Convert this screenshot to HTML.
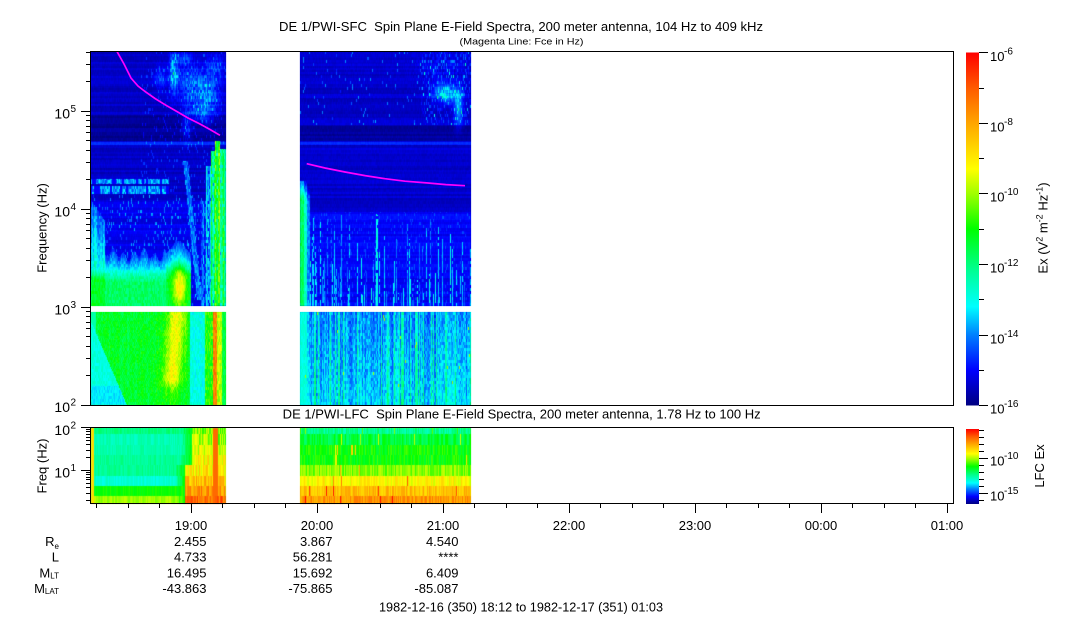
<!DOCTYPE html>
<html><head><meta charset="utf-8">
<style>
html,body{margin:0;padding:0;background:#fff;width:1083px;height:620px;overflow:hidden;}
#fb,#cv,#ov{position:absolute;left:0;top:0;}
text{font-family:"Liberation Sans",Arial,sans-serif;fill:#000;}
</style></head><body>
<svg id="fb" width="1083" height="620" xmlns="http://www.w3.org/2000/svg">
<rect x="91" y="52" width="135" height="254" fill="#0000c0"/>
<rect x="91" y="280" width="100" height="26" fill="#00ff90"/>
<rect x="91" y="312" width="135" height="93" fill="#30ff30"/>
<rect x="300" y="52" width="171" height="254" fill="#0000d0"/>
<rect x="300" y="312" width="171" height="93" fill="#0090ff"/>
<rect x="91" y="428" width="135" height="76" fill="#00ffb0"/>
<rect x="300" y="428" width="171" height="76" fill="#a0ff00"/>
</svg>
<canvas id="cv" width="1083" height="620"></canvas>
<svg id="ov" width="1083" height="620" xmlns="http://www.w3.org/2000/svg">
<defs>
<linearGradient id="cb" x1="0" y1="0" x2="0" y2="1">
<stop offset="0" stop-color="#ff0000"/>
<stop offset="0.1" stop-color="#ff5a00"/>
<stop offset="0.2" stop-color="#ffa500"/>
<stop offset="0.33" stop-color="#ffff00"/>
<stop offset="0.4" stop-color="#a0ff00"/>
<stop offset="0.5" stop-color="#00ff00"/>
<stop offset="0.62" stop-color="#00ff96"/>
<stop offset="0.72" stop-color="#00ffff"/>
<stop offset="0.8" stop-color="#0080ff"/>
<stop offset="0.9" stop-color="#0000ff"/>
<stop offset="1" stop-color="#000080"/>
</linearGradient>
</defs>
<text x="279" y="31" font-size="13" textLength="484" lengthAdjust="spacingAndGlyphs" style="white-space:pre">DE 1/PWI-SFC  Spin Plane E-Field Spectra, 200 meter antenna, 104 Hz to 409 kHz</text>
<text x="459.5" y="44.5" font-size="9.5" textLength="124" lengthAdjust="spacingAndGlyphs">(Magenta Line: Fce in Hz)</text>
<text x="282.7" y="418.5" font-size="13" textLength="478" lengthAdjust="spacingAndGlyphs" style="white-space:pre">DE 1/PWI-LFC  Spin Plane E-Field Spectra, 200 meter antenna, 1.78 Hz to 100 Hz</text>

<polyline points="117,51.5 124,64 131,78 138,86 145,91.5 155,98.5 165,104.7 176,111 188,118 200,124 210,129.5 220,135.3" fill="none" stroke="#ff00ff" stroke-width="1.7"/>
<polyline points="306.7,163.7 325,168 345,172 365,175.6 385,178.7 405,181.2 428,183 446,184.6 465,185.7" fill="none" stroke="#ff00ff" stroke-width="1.7"/>

<rect x="90.5" y="51.5" width="863" height="354" fill="none" stroke="#000" stroke-width="1"/>
<rect x="90.5" y="427.5" width="863" height="76" fill="none" stroke="#000" stroke-width="1"/>

<path stroke="#000" stroke-width="1" fill="none" d="M81 111.5H90M81 209.5H90M81 307.5H90M81 405.5H90
M86 375.5H90M86 358.5H90M86 346.5H90M86 336.5H90M86 328.5H90M86 322.5H90M86 316.5H90M86 311.5H90
M86 277.5H90M86 260.5H90M86 248.5H90M86 238.5H90M86 230.5H90M86 224.5H90M86 218.5H90M86 213.5H90
M86 179.5H90M86 162.5H90M86 150.5H90M86 140.5H90M86 132.5H90M86 126.5H90M86 120.5H90M86 115.5H90
M86 81.5H90M86 64.5H90M86 52.5H90"/>
<text x="70" y="118.5" font-size="14" text-anchor="end">10</text><text x="70.5" y="112" font-size="10">5</text>
<text x="70" y="216.5" font-size="14" text-anchor="end">10</text><text x="70.5" y="210" font-size="10">4</text>
<text x="70" y="314.5" font-size="14" text-anchor="end">10</text><text x="70.5" y="308" font-size="10">3</text>
<text x="70" y="412" font-size="14" text-anchor="end">10</text><text x="70.5" y="405.5" font-size="10">2</text>
<text transform="translate(46.5,228) rotate(-90)" font-size="13" text-anchor="middle">Frequency (Hz)</text>

<path stroke="#000" stroke-width="1" fill="none" d="M81 427.5H90M81 470.5H90
M86 457.5H90M86 450.5H90M86 444.5H90M86 440.5H90M86 437.5H90M86 434.5H90M86 431.5H90M86 429.5H90
M86 500.5H90M86 493.5H90M86 487.5H90M86 483.5H90M86 479.5H90M86 477.5H90M86 474.5H90M86 472.5H90"/>
<text x="70" y="435" font-size="14" text-anchor="end">10</text><text x="70.5" y="428.5" font-size="10">2</text>
<text x="70" y="477.5" font-size="14" text-anchor="end">10</text><text x="70.5" y="471" font-size="10">1</text>
<text transform="translate(46.5,466) rotate(-90)" font-size="13" text-anchor="middle">Freq (Hz)</text>

<path stroke="#000" stroke-width="1" fill="none" d="M191.5 504V513M317.5 504V513M443.5 504V513M569.5 504V513M695.5 504V513M821.5 504V513M947.5 504V513
M96.5 504V508M128.5 504V508M159.5 504V508M222.5 504V508M254.5 504V508M285.5 504V508M348.5 504V508M380.5 504V508M411.5 504V508M474.5 504V508M506.5 504V508M537.5 504V508M600.5 504V508M632.5 504V508M663.5 504V508M726.5 504V508M758.5 504V508M789.5 504V508M852.5 504V508M884.5 504V508M915.5 504V508"/>
<g font-size="13" text-anchor="middle">
<text x="191" y="530">19:00</text>
<text x="317" y="530">20:00</text>
<text x="443" y="530">21:00</text>
<text x="569" y="530">22:00</text>
<text x="695" y="530">23:00</text>
<text x="821" y="530">00:00</text>
<text x="947" y="530">01:00</text>
</g>
<g font-size="13" text-anchor="end">
<text x="59" y="546">R<tspan font-size="8" dy="3">e</tspan></text>
<text x="59" y="561.5">L</text>
<text x="59" y="577.5">M<tspan font-size="8" dy="1">LT</tspan></text>
<text x="59" y="593">M<tspan font-size="8" dy="1">LAT</tspan></text>
<text x="206.5" y="546">2.455</text>
<text x="206.5" y="561.5">4.733</text>
<text x="206.5" y="577.5">16.495</text>
<text x="206.5" y="593">-43.863</text>
<text x="332.5" y="546">3.867</text>
<text x="332.5" y="561.5">56.281</text>
<text x="332.5" y="577.5">15.692</text>
<text x="332.5" y="593">-75.865</text>
<text x="458.5" y="546">4.540</text>
<text x="458.5" y="561.5">****</text>
<text x="458.5" y="577.5">6.409</text>
<text x="458.5" y="593">-85.087</text>
</g>
<text x="379" y="611.5" font-size="13" textLength="284" lengthAdjust="spacingAndGlyphs">1982-12-16 (350) 18:12 to 1982-12-17 (351) 01:03</text>

<rect x="966" y="52.5" width="13" height="353" fill="url(#cb)"/>
<rect x="966" y="429" width="13" height="75" fill="url(#cb)"/>
<path stroke="#000" stroke-width="1" fill="none" d="M979 52.5H988M979 123.5H988M979 193.5H988M979 264.5H988M979 335.5H988M979 405.5H988
M979 88.5H984M979 158.5H984M979 229.5H984M979 299.5H984M979 370.5H984
M979 458.5H988M979 493.5H988
M979 430.5H984M979 437.5H984M979 444.5H984M979 451.5H984M979 465.5H984M979 472.5H984M979 479.5H984M979 486.5H984M979 500.5H984"/>
<g font-size="13">
<text x="990" y="61">10</text><text x="1004" y="54.5" font-size="10">-6</text>
<text x="990" y="131.5">10</text><text x="1004" y="125" font-size="10">-8</text>
<text x="990" y="201.5">10</text><text x="1004" y="195" font-size="10">-10</text>
<text x="990" y="272.5">10</text><text x="1004" y="266" font-size="10">-12</text>
<text x="990" y="343.5">10</text><text x="1004" y="337" font-size="10">-14</text>
<text x="990" y="413.5">10</text><text x="1004" y="407" font-size="10">-16</text>
<text x="990" y="465.5">10</text><text x="1004" y="459" font-size="10">-10</text>
<text x="990" y="500.5">10</text><text x="1004" y="494" font-size="10">-15</text>
</g>
<text transform="translate(1047.5,228) rotate(-90)" font-size="13" text-anchor="middle">Ex (V<tspan font-size="9" dy="-5">2</tspan><tspan dy="5"> m</tspan><tspan font-size="9" dy="-5">-2</tspan><tspan dy="5"> Hz</tspan><tspan font-size="9" dy="-5">-1</tspan><tspan dy="5">)</tspan></text>
<text transform="translate(1044,466) rotate(-90)" font-size="13" text-anchor="middle">LFC Ex</text>
</svg>
<script>
(function(){
var W=1083,H=620,cv=document.getElementById('cv'),ctx=cv.getContext('2d');
var im=ctx.createImageData(W,H),D=im.data;
var s=123456789;
function R(){s^=s<<13;s^=s>>>17;s^=s<<5;return (s>>>0)/4294967296;}
var S=[[0,0,0,128],[0.1,0,0,255],[0.2,0,128,255],[0.28,0,255,255],[0.38,0,255,150],[0.5,0,255,0],[0.6,160,255,0],[0.67,255,255,0],[0.8,255,165,0],[0.9,255,90,0],[1,255,0,0]];
function P(x,y,t){if(t<0)t=0;if(t>1)t=1;var i=1;while(i<S.length-1&&S[i][0]<t)i++;var a=S[i-1],b=S[i],f=(t-a[0])/(b[0]-a[0]);if(f<0)f=0;if(f>1)f=1;var p=(y*W+x)*4;D[p]=a[1]+(b[1]-a[1])*f;D[p+1]=a[2]+(b[2]-a[2])*f;D[p+2]=a[3]+(b[3]-a[3])*f;D[p+3]=255;}
function G(x,y,cx,cy,sx,sy){var dx=(x-cx)/sx,dy=(y-cy)/sy;return Math.exp(-(dx*dx+dy*dy)/2);}
var NC=new Float32Array(W*220),k;for(k=0;k<NC.length;k++)NC[k]=R();
function cn(x,y){return NC[x*220+((y/3)|0)];}
function cn2(x,y){return NC[((x*37+11)%W)*220+((y/3)|0)];}
var colN=new Float32Array(W);for(k=0;k<W;k++)colN[k]=R();
var chN=new Float32Array(400);for(k=0;k<400;k++)chN[k]=R();
var x,y,t,c,c2;
/* segment 1 upper */
for(y=52;y<=305;y++){for(x=91;x<=225;x++){
 c=cn(x,y);c2=cn2(x,y);
 if(y<115)t=0.055;else if(y<141)t=0.02;else if(y<142)t=0.07;else if(y<145)t=0.13;else if(y<200)t=0.055;else t=0.085;
 t+=(chN[(y/2)|0]-0.5)*0.035+(c-0.5)*0.02;
 var b=0.22*G(x,y,173,72,3,14)+0.14*G(x,y,190,85,9,14)+0.15*G(x,y,208,95,8,16)+0.12*G(x,y,184,58,5,4)+0.1*G(x,y,160,78,4,8)+0.12*G(x,y,200,112,6,7)+0.13*G(x,y,186,125,3,10)+0.1*G(x,y,215,65,6,8);
 t+=b*(0.5+0.7*c);
 if(y<200&&x>140&&c2>0.94)t+=0.08;
 if(y>=195&&c2>0.9)t+=0.06+0.08*c;
 if(x<=168&&((y>=179&&y<=183)||(y>=186&&y<=193))){var q=NC[((x/2)|0)*220+(y>185?211:210)];if(q>0.25)t=0.15+0.13*c;else t=0.1;}
 var y1,y2,tm;
 if(x<=104){y1=200+(x-91)*1.5;y2=268;tm=0.47;}
 else if(x<=165){y1=254+4*Math.sin(x*0.6)+3*Math.sin(x*0.21);y2=270;tm=0.42;}
 else if(x<=190){var gg=G(x,0,178,0,6,1);y1=254-14*gg;y2=266-6*gg;tm=0.45;}
 else{y1=320;y2=330;tm=0.2;}
 if(y>y1){var te;
  if(y<y2){te=0.14+0.15*(y-y1)/(y2-y1);}
  else{te=0.3+(tm-0.3)*Math.min(1,(y-y2)/12);}
  te+=(c-0.5)*0.08;
  if(x<=104&&y<y2)te+=(colN[x]-0.5)*0.1+0.03;
  if(x>165&&x<=192)te+=0.25*G(x,y,179,287,5,14);
  if(te>t)t=te;}
 var vs=0;
 if(x>=201&&x<=205&&y>200)vs=0.16;
 if(x>=206&&x<=210&&y>165)vs=0.27;
 if(x>=211&&x<=214&&y>150)vs=0.4;
 if(x>=215&&x<=219&&y>140)vs=0.52;
 if(x>=220&&y>148)vs=0.44;
 if(vs>0){vs+=(colN[x]-0.5)*0.16+(c-0.5)*0.12;if(c2<0.12)vs-=0.12;if(vs>t)t=vs;}
 var xd=185+(y-160)*0.1;
 if(y>160&&y<300&&Math.abs(x-xd)<2.5){var tv=0.13+0.12*c;if(tv>t)t=tv;}
 P(x,y,t);
}}
/* segment 1 lower */
for(y=312;y<=404;y++)for(x=91;x<=225;x++){
 c=cn(x,y);
 t=0.46+(c-0.5)*0.08+(colN[x]-0.5)*0.04+(((x+(y>>1))&1)?0.02:-0.01);
 var xb=91+(y-322)*0.43;
 if(x<xb)t=0.31+(c-0.5)*0.06-(y>385?0.04:0);
 if(x<=95)t=Math.min(t,0.36);
 var xc=177-(y-312)*0.08,env=y<380?1:Math.exp(-(y-380)/12);
 t+=0.2*Math.exp(-Math.pow((x-xc)/7,2)/2)*env;
 if(x>=190&&x<=204)t=0.3+(c-0.5)*0.08;
 else if(x>=205&&x<=212)t=0.52+(c-0.5)*0.14;
 else if(x>=213&&x<=216)t=0.85+(c-0.5)*0.1;
 else if(x>=217&&x<=221)t=0.62+(c-0.5)*0.1;
 else if(x>=222)t=0.45+(c-0.5)*0.08;
 P(x,y,t);
}
/* segment 2 upper */
var st=[];for(x=300;x<=470;x++){var pr=(x<345)?0.5:0.3;st[x]=R()<pr?{y0:212+R()*85,v:0.14+0.16*R()}:null;}
for(y=52;y<=305;y++)for(x=300;x<=470;x++){
 c=cn(x,y);c2=cn2(x,y);
 if(y<125)t=0.06;else if(y<141)t=0.025;else if(y<142)t=0.07;else if(y<145)t=0.14;else if(y<212)t=0.06;else t=0.095;
 t+=(chN[((y/2)|0)+100]-0.5)*0.035+(c-0.5)*0.02;
 if(y<125){if(c2>0.97)t+=0.07+0.08*c;if(x>420&&c2>0.72)t+=0.03+0.06*c;}
 t+=0.24*G(x,y,446,93,9,6)*(0.6+0.6*c)+0.16*G(x,y,458,108,3,12)+0.07*G(x,y,440,66,14,10)*c;
 if(y>=212){var so=st[x];if(so&&y>so.y0&&c>0.2){var tv2=so.v+(c-0.5)*0.06;if(tv2>t)t=tv2;}if(c2>0.94)t+=0.05;}
 if(x<=309&&y>180){var lv=x<=303?0.43:(x<=306?0.33:0.2);lv+=(c-0.5)*0.08;if(y<200)lv-=(200-y)*0.012;if(lv>t)t=lv;}
 P(x,y,t);
}
/* segment 2 lower */
for(y=312;y<=404;y++)for(x=300;x<=470;x++){
 c=cn(x,y);
 t=0.21+(colN[x]-0.5)*0.1+(c-0.5)*0.1+(y-312)*0.0006;
 if(colN[x]>0.85)t+=0.08;
 if(x<=306)t=0.31+(c-0.5)*0.05;
 if(cn2(x,y)>0.997)t=0.6;
 P(x,y,t);
}
/* LFC panel */
var rb=[428,434,445,455,465,476,486,496,504];
var r2=[0.38,0.45,0.5,0.5,0.58,0.68,0.76,0.82];
var r1a=[0.4,0.35,0.36,0.38,0.38,0.32,0.5,0.6];
var r1b=[0.58,0.6,0.64,0.68,0.7,0.76,0.82,0.88];
for(var r=0;r<8;r++){for(y=rb[r];y<rb[r+1];y++){
 for(x=91;x<=225;x++){var n=NC[x*220+r+150];
  var xt=r>=4?185:192;
  if(x<xt-12)t=r1a[r]+(n-0.5)*0.05;
  else if(x<xt){var ff=(x-(xt-12))/12;t=r1a[r]*(1-ff)+0.5*ff+(n-0.5)*0.06;}
  else t=r1b[r]+(n-0.5)*0.14;
  if(x>=213&&x<=217)t=Math.max(t,0.88);
  if(x<=93)t=0.72;
  P(x,y,t);}
 for(x=300;x<=470;x++){var n2=NC[x*220+r+150];t=r2[r]+(n2-0.5)*0.1;if(NC[x*220+r+170]>0.97)t+=0.2;P(x,y,t);}
}}
ctx.putImageData(im,0,0);
})();
</script>
</body></html>
